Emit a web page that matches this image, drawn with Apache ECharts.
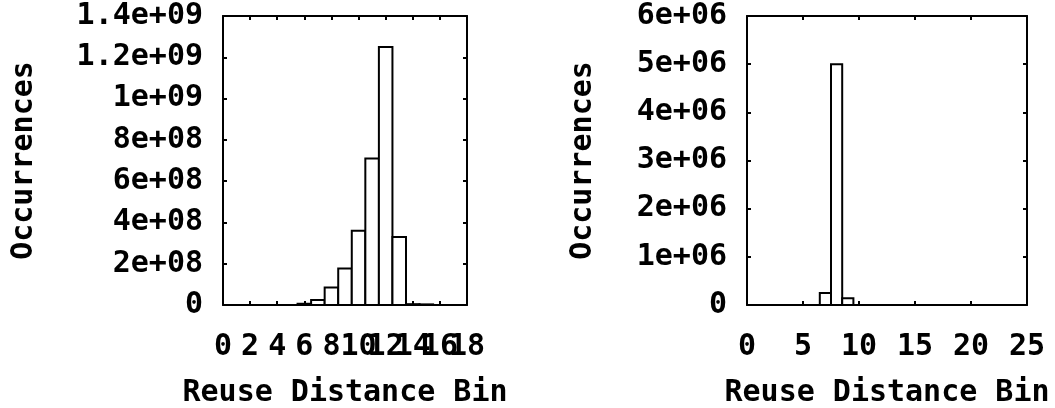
<!DOCTYPE html>
<html>
<head>
<meta charset="utf-8">
<script src="https://cdn.jsdelivr.net/npm/echarts@6/dist/echarts.min.js"></script>
<style>
  html, body { margin: 0; padding: 0; background: #fff; }
  #chart { width: 1055px; height: 408px; }
</style>
</head>
<body>
<div id="chart"></div>
<script>
// left histogram
const leftBins = [0, 1, 2, 3, 4, 5, 6, 7, 8, 9, 10, 11, 12, 13, 14, 15, 16, 17, 18]
const leftCounts = [0, 0, 0, 0, 0, 0, 6e6, 2.4e7, 8.5e7, 1.77e8, 3.6e8, 7.1e8, 1.25e9, 3.3e8, 4e6, 3e6, 0, 0, 0]
const leftYLabels = ['0', '2e+08', '4e+08', '6e+08', '8e+08', '1e+09', '1.2e+09', '1.4e+09']
const leftXLabels = ['0', '2', '4', '6', '8', '10', '12', '14', '16', '18']

// right histogram
const rightBins = [0, 1, 2, 3, 4, 5, 6, 7, 8, 9, 10, 11, 12, 13, 14, 15, 16, 17, 18, 19, 20, 21, 22, 23, 24, 25]
const rightCounts = [0, 0, 0, 0, 0, 0, 0, 2.5e5, 5.0e6, 1.4e5, 0, 0, 0, 0, 0, 0, 0, 0, 0, 0, 0, 0, 0, 0, 0, 0]
const rightYLabels = ['0', '1e+06', '2e+06', '3e+06', '4e+06', '5e+06', '6e+06']
const rightXLabels = ['0', '5', '10', '15', '20', '25']

const xName = 'Reuse Distance Bin'
const yName = 'Occurrences'

const font = {
  fontFamily: 'DejaVu Sans Mono',
  fontWeight: 'bold',
  fontSize: 30,
  color: '#000'
}
const line = { color: '#000', width: 2 }

// each bin is a box one unit wide, centred on its bin number
function renderBin(params, api) {
  const k = api.value(0)
  const v = api.value(1)
  const p0 = api.coord([k - 0.5, 0])
  const p1 = api.coord([k + 0.5, v])
  return {
    type: 'rect',
    shape: { x: p0[0], y: p1[1], width: p1[0] - p0[0], height: p0[1] - p1[1] },
    style: { fill: '#fff', stroke: '#000', lineWidth: 2 }
  }
}

function xAxes(grid, max, step, labels) {
  return [
    {
      gridIndex: grid, type: 'value', min: 0, max: max, interval: step,
      name: xName, nameLocation: 'middle', nameGap: 73, nameTextStyle: font,
      axisLine: { show: true, onZero: false, lineStyle: line },
      axisTick: { inside: true, length: 4, lineStyle: line },
      // the last label sits on its own axis below, so echarts does not drop the one before it
      axisLabel: Object.assign({
        margin: 27, showMinLabel: true, showMaxLabel: false,
        formatter: (v) => labels[Math.round(v / step)]
      }, font),
      splitLine: { show: false }
    },
    {
      gridIndex: grid, type: 'value', position: 'top', min: 0, max: max, interval: step,
      axisLine: { show: true, onZero: false, lineStyle: line },
      axisTick: { inside: true, length: 4, lineStyle: line },
      axisLabel: { show: false },
      splitLine: { show: false }
    },
    {
      gridIndex: grid, type: 'value', position: 'bottom', min: 0, max: max, interval: max,
      axisLine: { show: false, onZero: false },
      axisTick: { show: false },
      axisLabel: Object.assign({
        margin: 27, showMinLabel: false, showMaxLabel: true,
        formatter: (v) => (v === max ? labels[labels.length - 1] : '')
      }, font),
      splitLine: { show: false }
    }
  ]
}

function yAxes(grid, max, step, labels, gap) {
  return [
    {
      gridIndex: grid, type: 'value', min: 0, max: max, interval: step,
      name: yName, nameLocation: 'middle', nameGap: gap, nameRotate: 90, nameTextStyle: font,
      axisLine: { show: true, onZero: false, lineStyle: line },
      axisTick: { inside: true, length: 4, lineStyle: line },
      axisLabel: Object.assign({
        margin: 20, showMinLabel: true, showMaxLabel: true,
        formatter: (v) => labels[Math.round(v / step)]
      }, font),
      splitLine: { show: false }
    },
    {
      gridIndex: grid, type: 'value', position: 'right', min: 0, max: max, interval: step,
      axisLine: { show: true, onZero: false, lineStyle: line },
      axisTick: { inside: true, length: 4, lineStyle: line },
      axisLabel: { show: false },
      splitLine: { show: false }
    }
  ]
}

const chart = echarts.init(document.getElementById('chart'), null, { renderer: 'canvas' })
chart.setOption({
  backgroundColor: '#fff',
  animation: false,
  grid: [
    { left: 223, top: 16, width: 244, height: 289, outerBoundsMode: 'none' },
    { left: 747, top: 16, width: 280, height: 289, outerBoundsMode: 'none' }
  ],
  xAxis: xAxes(0, 18, 2, leftXLabels).concat(xAxes(1, 25, 5, rightXLabels)),
  yAxis: yAxes(0, 1.4e9, 2e8, leftYLabels, 184).concat(yAxes(1, 6e6, 1e6, rightYLabels, 149)),
  series: [
    {
      type: 'custom', xAxisIndex: 0, yAxisIndex: 0, clip: true,
      renderItem: renderBin,
      data: leftBins.map((b, i) => [b, leftCounts[i]])
    },
    {
      type: 'custom', xAxisIndex: 3, yAxisIndex: 2, clip: true,
      renderItem: renderBin,
      data: rightBins.map((b, i) => [b, rightCounts[i]])
    }
  ]
})
</script>
</body>
</html>
